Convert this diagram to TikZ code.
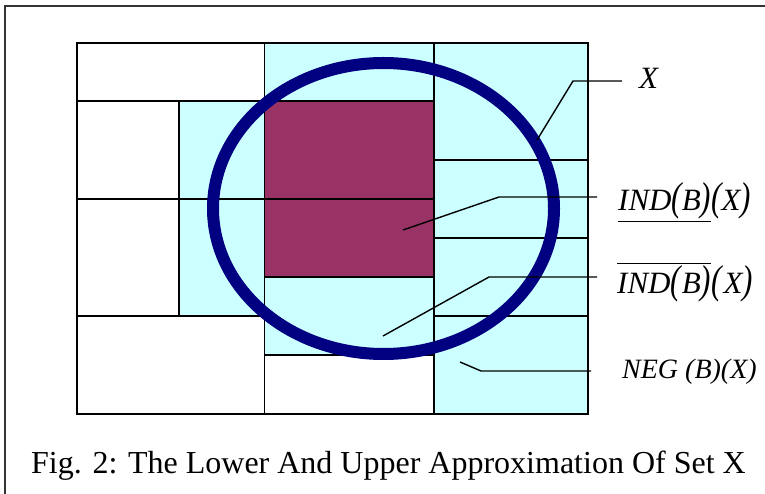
\documentclass[tikz,border=0pt]{standalone}
\usepackage{fontspec}
\usepackage{graphicx}
\setmainfont{Liberation Serif}
\definecolor{cellcyan}{HTML}{CCFFFF}
\definecolor{lowermaroon}{HTML}{993366}
\definecolor{setnavy}{HTML}{000080}
\newcommand\tallp[1]{\scalebox{1}[1.3]{#1}}
\tikzset{
  grid line/.style={draw=black, line width=1.5pt},
  frame line/.style={draw=black!80, line width=2pt},
  leader/.style={draw=black, line width=1.4pt},
  setellipse/.style={draw=setnavy, line width=12pt},
  lbl/.style={inner sep=0pt, anchor=base west, font=\fontsize{31}{36}\selectfont\itshape},
}
\begin{document}
\begin{tikzpicture}[x=1pt,y=-1pt]
\useasboundingbox (0,0) rectangle (765,494);
% outer frame
\draw[frame line] (5,494) -- (5,6) -- (765,6);
% fills
\fill[cellcyan] (179,101) rectangle (264.5,316);
\fill[cellcyan] (264.5,43) rectangle (434,101);
\fill[cellcyan] (264.5,277) rectangle (434,355);
\fill[cellcyan] (434,43) rectangle (588,414);
\fill[lowermaroon] (264.5,101) rectangle (434,277);
% grid lines
\draw[grid line] (77,101) -- (434,101);
\draw[grid line] (77,199) -- (434,199);
\draw[grid line] (77,316) -- (264.5,316);
\draw[grid line] (264.5,277) -- (434,277);
\draw[grid line] (264.5,355) -- (434,355);
\draw[grid line] (434,160) -- (588,160);
\draw[grid line] (434,238) -- (588,238);
\draw[grid line] (434,316) -- (588,316);
\draw[grid line] (179,101) -- (179,316);
\draw[grid line] (264.5,43) -- (264.5,414);
\draw[grid line] (434,43) -- (434,414);
\draw[grid line, line width=2pt] (77,43) rectangle (588,414);
% the set X
\draw[setellipse] (383.5,208.5) ellipse [x radius=170.5, y radius=145.5];
% labels
\node[lbl] (lx) at (639,89) {X};
\node[lbl] (llow) at (618,211) {$\underline{\hbox{\textit{IND}\tallp{(}\textit{B}\tallp{)}}}$\tallp{(}\textit{X}\tallp{)}};
\node[lbl] (lup) at (617,293) {$\overline{\hbox{\textit{IND}\tallp{(}\kern1pt\textit{B}\tallp{)}}}$\tallp{(}\kern2pt\textit{X}\tallp{)}};
\node[lbl, font=\fontsize{28}{34}\selectfont\itshape] (lneg) at (622,378) {NEG (B)(X)};
\node[inner sep=0pt, anchor=base west, font=\fontsize{32}{38}\selectfont] (cap) at (31,473) {Fig. 2: The Lower And Upper Approximation Of Set X};
% leader coordinates
\coordinate (xs) at (622,81);
\coordinate (xk) at (573,81);
\coordinate (xe) at (537,140);
\coordinate (ls) at (597,197);
\coordinate (lk) at (499,197);
\coordinate (le) at (403,230);
\coordinate (us) at (597,277);
\coordinate (uk) at (489,277);
\coordinate (ue) at (383,336);
\coordinate (ns) at (591,371);
\coordinate (nk) at (481,371);
\coordinate (ne) at (460,362);
\draw[leader] (xs) -- (xk) -- (xe);
\draw[leader] (ls) -- (lk) -- (le);
\draw[leader] (us) -- (uk) -- (ue);
\draw[leader] (ns) -- (nk) -- (ne);
\end{tikzpicture}
\end{document}
